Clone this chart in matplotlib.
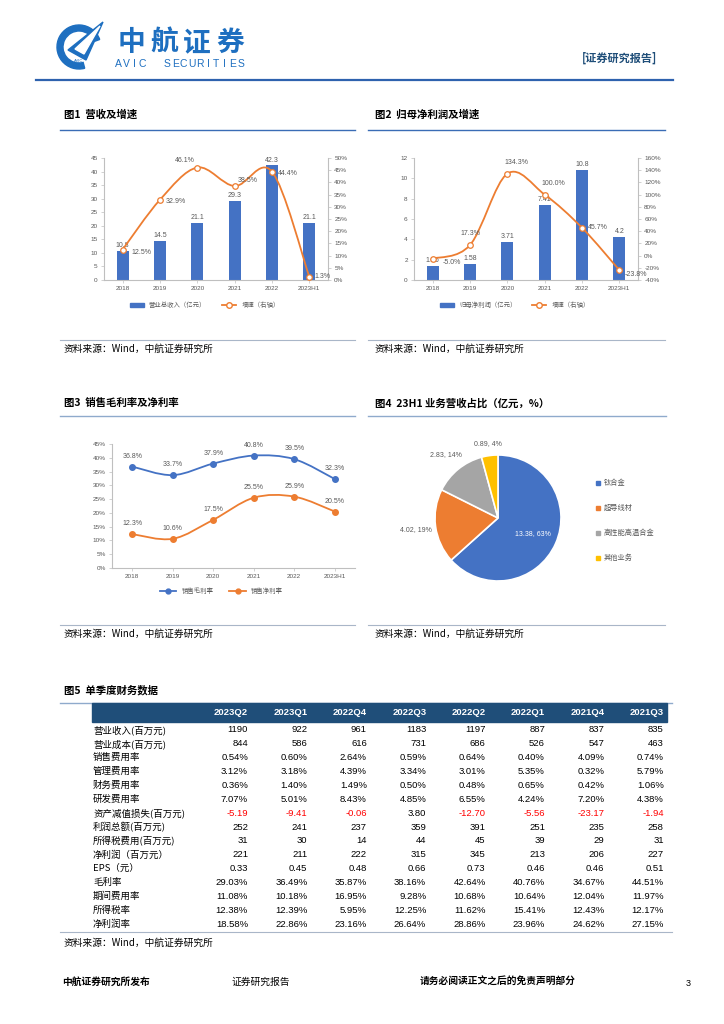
import numpy as np
import matplotlib
matplotlib.use('Agg')
import matplotlib.pyplot as plt
from matplotlib.path import Path
from matplotlib.patches import PathPatch, Rectangle, Polygon, Wedge
from matplotlib.lines import Line2D
from matplotlib.ticker import FuncFormatter

plt.rcParams['font.family'] = ['Liberation Sans', 'Noto Sans CJK SC']
plt.rcParams['axes.unicode_minus'] = False

# ---- data ----
years = ['2018', '2019', '2020', '2021', '2022', '2023H1']
revenue = [10.8, 14.5, 21.1, 29.3, 42.3, 21.1]
revenue_growth = [12.5, 32.9, 46.1, 38.5, 44.4, 1.3]
profit = [1.36, 1.58, 3.71, 7.41, 10.8, 4.2]
profit_text = ['1.36', '1.58', '3.71', '7.41', '10.8', '4.2']
profit_growth = [-5.0, 17.3, 134.3, 100.0, 45.7, -23.8]
gross_margin = [36.8, 33.7, 37.9, 40.8, 39.5, 32.3]
net_margin = [12.3, 10.6, 17.5, 25.5, 25.9, 20.5]

segments = ['钛合金', '超导线材', '高性能高温合金', '其他业务']
segment_rev = [13.38, 4.02, 2.83, 0.89]
segment_pct = [63, 19, 14, 4]

quarters = ['2023Q2', '2023Q1', '2022Q4', '2022Q3', '2022Q2', '2022Q1', '2021Q4', '2021Q3']
row_names = ['营业收入(百万元)', '营业成本(百万元)', '销售费用率', '管理费用率', '财务费用率',
             '研发费用率', '资产减值损失(百万元)', '利润总额(百万元)', '所得税费用(百万元)',
             '净利润（百万元）', 'EPS（元）', '毛利率', '期间费用率', '所得税率', '净利润率']
table_rows = [
    ['1190', '922', '961', '1183', '1197', '887', '837', '835'],
    ['844', '586', '616', '731', '686', '526', '547', '463'],
    ['0.54%', '0.60%', '2.64%', '0.59%', '0.64%', '0.40%', '4.09%', '0.74%'],
    ['3.12%', '3.18%', '4.39%', '3.34%', '3.01%', '5.35%', '0.32%', '5.79%'],
    ['0.36%', '1.40%', '1.49%', '0.50%', '0.48%', '0.65%', '0.42%', '1.06%'],
    ['7.07%', '5.01%', '8.43%', '4.85%', '6.55%', '4.24%', '7.20%', '4.38%'],
    ['-5.19', '-9.41', '-0.06', '3.80', '-12.70', '-5.56', '-23.17', '-1.94'],
    ['252', '241', '237', '359', '391', '251', '235', '258'],
    ['31', '30', '14', '44', '45', '39', '29', '31'],
    ['221', '211', '222', '315', '345', '213', '206', '227'],
    ['0.33', '0.45', '0.48', '0.66', '0.73', '0.46', '0.46', '0.51'],
    ['29.03%', '36.49%', '35.87%', '38.16%', '42.64%', '40.76%', '34.67%', '44.51%'],
    ['11.08%', '10.18%', '16.95%', '9.28%', '10.68%', '10.64%', '12.04%', '11.97%'],
    ['12.38%', '12.39%', '5.95%', '12.25%', '11.62%', '15.41%', '12.43%', '12.17%'],
    ['18.58%', '22.86%', '23.16%', '26.64%', '28.86%', '23.96%', '24.62%', '27.15%'],
]

BLUE = '#4472C4'
ORANGE = '#ED7D31'
PIE_COLORS = ['#4472C4', '#ED7D31', '#A5A5A5', '#FFC000']
AXC = '#BFBFBF'
TXT = '#595959'
NAVY = '#1F4E79'
LOGO = '#1E6FC0'
CJK = ['Noto Sans CJK SC', 'DejaVu Sans']

W, H = 724, 1024
fig = plt.figure(figsize=(W / 100, H / 100), dpi=100)


def rect(l, t, r, b):
    return [l / W, 1 - b / H, (r - l) / W, (b - t) / H]


def smooth_path(x, y):
    # excel-style smoothed line drawn as bezier segments through the points
    x = np.asarray(x, float)
    y = np.asarray(y, float)
    px = np.r_[x[0], x, x[-1]]
    py = np.r_[y[0], y, y[-1]]
    verts = [(x[0], y[0])]
    codes = [Path.MOVETO]
    for j in range(1, len(x)):
        c1 = (px[j] + (px[j + 1] - px[j - 1]) / 6, py[j] + (py[j + 1] - py[j - 1]) / 6)
        c2 = (px[j + 1] - (px[j + 2] - px[j]) / 6, py[j + 1] - (py[j + 2] - py[j]) / 6)
        verts += [c1, c2, (px[j + 1], py[j + 1])]
        codes += [Path.CURVE4] * 3
    return Path(verts, codes)


def style_axis(ax):
    for s in ['top', 'right']:
        ax.spines[s].set_visible(False)
    ax.spines['bottom'].set_color(AXC)
    ax.spines['left'].set_color(AXC)
    ax.tick_params(axis='both', labelsize=4.6, colors=TXT, length=2.5, width=0.5, color=AXC, pad=2)


def style_right(ax):
    for s in ['top', 'left', 'bottom']:
        ax.spines[s].set_visible(False)
    ax.spines['right'].set_color(AXC)
    ax.tick_params(labelsize=4.6, colors=TXT, length=2.5, width=0.5, color=AXC, pad=2)


pct_fmt = FuncFormatter(lambda v, p: f'{v:.0f}%')

# ---- decoration layer (pixel coords) ----
deco = fig.add_axes([0, 0, 1, 1])
deco.set_xlim(0, W)
deco.set_ylim(H, 0)
deco.axis('off')

# logo
deco.add_patch(Wedge((79, 47), 22, 75, 340, width=6, color=LOGO))
deco.add_patch(Polygon([(68, 50), (103, 22), (86, 60)], closed=True, color=LOGO))
deco.add_patch(Polygon([(75, 49), (100, 26), (84, 54)], closed=True, color='white'))
deco.text(79, 61, 'AVIC', fontsize=3, color=LOGO, ha='center', va='center')
for i, ch in enumerate('中航证券'):
    deco.text(131 + i * 33, 43, ch, fontsize=20, fontweight='heavy', color=LOGO,
              family=CJK, ha='center', va='center')
for i, ch in enumerate('AVIC  SECURITIES'):
    deco.text(118 + i * 8.2, 64, ch, fontsize=7.5, color=LOGO, ha='center', va='center')
deco.text(657, 58, '[证券研究报告]', fontsize=8, fontweight='bold', color=NAVY,
          family=CJK, ha='right', va='center')
deco.plot([36, 673], [80, 80], color='#2E62AE', lw=1.6)

# figure titles and rules
titles = [(64, 115, '图1  营收及增速'), (375, 115, '图2  归母净利润及增速'),
          (64, 403, '图3  销售毛利率及净利率'), (375, 403, '图4  23H1 业务营收占比（亿元，%）'),
          (64, 690, '图5  单季度财务数据')]
for tx, ty, t in titles:
    deco.text(tx, ty, t, fontsize=7.5, fontweight='bold', family=CJK, color='black',
              ha='left', va='center')
deco.plot([60, 355], [130, 130], color='#3A6CB5', lw=1)
deco.plot([368, 665], [130, 130], color='#3A6CB5', lw=1)
deco.plot([60, 355], [416, 416], color='#8FAACC', lw=1)
deco.plot([368, 666], [416, 416], color='#8FAACC', lw=1)
deco.plot([60, 672], [703, 703], color='#8FAACC', lw=1)
for yy in [340, 625]:
    deco.plot([60, 355], [yy, yy], color='#A9B6C8', lw=0.8)
    deco.plot([368, 665], [yy, yy], color='#A9B6C8', lw=0.8)
deco.plot([60, 672], [932, 932], color='#A9B6C8', lw=0.8)
for sx, sy in [(64, 349), (375, 349), (64, 634), (375, 634), (64, 943)]:
    deco.text(sx, sy, '资料来源：Wind，中航证券研究所', fontsize=7, family=CJK, color='black',
              ha='left', va='center')

# footer
deco.text(62, 982, '中航证券研究所发布', fontsize=7, fontweight='bold', family=CJK, ha='left', va='center')
deco.text(232, 982, '证券研究报告', fontsize=7, family=CJK, ha='left', va='center')
deco.text(420, 982, '请务必阅读正文之后的免责声明部分', fontsize=7, fontweight='bold', family=CJK,
          ha='left', va='center')
deco.text(688, 984, '3', fontsize=6.5, ha='center', va='center')

# ---- table ----
deco.add_patch(Rectangle((92, 703), 575, 19, color=NAVY, zorder=2))
col_right = [248 + 59.4 * i for i in range(len(quarters))]
for q, cr in zip(quarters, col_right):
    deco.text(cr - 17, 712.5, q, fontsize=6.8, fontweight='bold', color='white',
              ha='center', va='center', zorder=3)
for r, (name, vals) in enumerate(zip(row_names, table_rows)):
    ry = 730 + r * 13.86
    deco.text(93, ry, name, fontsize=6.8, family=CJK, color='black', ha='left', va='center')
    for v, cr in zip(vals, col_right):
        c = 'red' if v.startswith('-') else 'black'
        deco.text(cr, ry, v, fontsize=6.8, color=c, ha='right', va='center')

x = np.arange(len(years))

# ---- chart 1 ----
ax1 = fig.add_axes(rect(104, 158, 328, 280))
ax1.bar(x, revenue, width=0.32, color=BLUE, zorder=2)
for xi, v in zip(x, revenue):
    ax1.text(xi, v + 0.6, f'{v:.1f}', ha='center', va='bottom', fontsize=5, color=TXT)
ax1.set_ylim(0, 45)
ax1.set_yticks(range(0, 46, 5))
ax1.set_xlim(-0.5, 5.5)
ax1.set_xticks(x)
ax1.set_xticklabels(years)
style_axis(ax1)
ax1b = ax1.twinx()
ax1b.set_ylim(0, 50)
ax1b.set_yticks(range(0, 51, 5))
ax1b.yaxis.set_major_formatter(pct_fmt)
style_right(ax1b)
ax1b.add_patch(PathPatch(smooth_path(x, revenue_growth), fill=False, ec=ORANGE, lw=1.3, zorder=3))
ax1b.plot(x, revenue_growth, 'o', ms=4, mfc='white', mec=ORANGE, mew=0.9, zorder=4)
offs1 = [(6, -2), (4, -1), (-16, 5), (2, 4), (4, -1), (4, 0)]
for xi, v, o in zip(x, revenue_growth, offs1):
    ax1b.annotate(f'{v:.1f}%', (xi, v), xytext=o, textcoords='offset points',
                  fontsize=5, color=TXT, ha='left', va='center')
h1 = [Rectangle((0, 0), 1, 1, color=BLUE),
      Line2D([], [], color=ORANGE, lw=1.3, marker='o', ms=4, mfc='white', mec=ORANGE)]
ax1.legend(h1, ['营业总收入（亿元）', '增速（右轴）'], loc='upper center', bbox_to_anchor=(0.45, -0.13),
           ncol=2, frameon=False, fontsize=4.6, handlelength=2.2, handleheight=0.6,
           columnspacing=2.5, labelcolor=TXT)

# ---- chart 2 ----
ax2 = fig.add_axes(rect(414, 158, 638, 280))
ax2.bar(x, profit, width=0.32, color=BLUE, zorder=2)
for xi, v, t in zip(x, profit, profit_text):
    ax2.text(xi, v + 0.2, t, ha='center', va='bottom', fontsize=5, color=TXT)
ax2.set_ylim(0, 12)
ax2.set_yticks(range(0, 13, 2))
ax2.set_xlim(-0.5, 5.5)
ax2.set_xticks(x)
ax2.set_xticklabels(years)
style_axis(ax2)
ax2b = ax2.twinx()
ax2b.set_ylim(-40, 160)
ax2b.set_yticks(range(-40, 161, 20))
ax2b.yaxis.set_major_formatter(pct_fmt)
style_right(ax2b)
ax2b.add_patch(PathPatch(smooth_path(x, profit_growth), fill=False, ec=ORANGE, lw=1.3, zorder=3))
ax2b.plot(x, profit_growth, 'o', ms=4, mfc='white', mec=ORANGE, mew=0.9, zorder=4)
offs2 = [(7, -3), (-7, 8), (-2, 8), (-2, 8), (4, 0), (4, -3)]
for xi, v, o in zip(x, profit_growth, offs2):
    ax2b.annotate(f'{v:.1f}%', (xi, v), xytext=o, textcoords='offset points',
                  fontsize=5, color=TXT, ha='left', va='center')
ax2.legend(h1, ['归母净利润（亿元）', '增速（右轴）'], loc='upper center', bbox_to_anchor=(0.45, -0.13),
           ncol=2, frameon=False, fontsize=4.6, handlelength=2.2, handleheight=0.6,
           columnspacing=2.5, labelcolor=TXT)

# ---- chart 3 ----
ax3 = fig.add_axes(rect(112, 444, 355, 568))
for series, col in [(gross_margin, BLUE), (net_margin, ORANGE)]:
    ax3.add_patch(PathPatch(smooth_path(x, series), fill=False, ec=col, lw=1.3, zorder=3))
    ax3.plot(x, series, 'o', ms=4, color=col, zorder=4)
    for xi, v in zip(x, series):
        ax3.annotate(f'{v:.1f}%', (xi, v), xytext=(0, 5), textcoords='offset points',
                     fontsize=5, color=TXT, ha='center', va='bottom')
ax3.set_ylim(0, 45)
ax3.set_yticks(range(0, 46, 5))
ax3.yaxis.set_major_formatter(pct_fmt)
ax3.set_xlim(-0.5, 5.5)
ax3.set_xticks(x)
ax3.set_xticklabels(years)
style_axis(ax3)
h3 = [Line2D([], [], color=BLUE, lw=1.3, marker='o', ms=3.5),
      Line2D([], [], color=ORANGE, lw=1.3, marker='o', ms=3.5)]
ax3.legend(h3, ['销售毛利率', '销售净利率'], loc='upper center', bbox_to_anchor=(0.45, -0.11),
           ncol=2, frameon=False, fontsize=4.6, handlelength=2.6, columnspacing=2.5, labelcolor=TXT)

# ---- chart 4 ----
ax4 = fig.add_axes(rect(428, 448, 568, 588))
wedges, _ = ax4.pie(segment_rev, colors=PIE_COLORS, startangle=90, counterclock=False,
                    wedgeprops=dict(edgecolor='white', linewidth=1.2))
ax4.set_xlim(-1.111, 1.111)
ax4.set_ylim(-1.111, 1.111)
ax4.set_aspect('equal')
lab_r = [0.6, 1.32, 1.3, 1.2]
for i, (w, v, p, rr) in enumerate(zip(wedges, segment_rev, segment_pct, lab_r)):
    ang = np.deg2rad((w.theta1 + w.theta2) / 2)
    ax4.text(rr * np.cos(ang), rr * np.sin(ang), f'{v:.2f}, {p}%', fontsize=5,
             color='white' if i == 0 else TXT, ha='center', va='center')
for i, (name, col) in enumerate(zip(segments, PIE_COLORS)):
    ly = 483 + i * 25
    deco.add_patch(Rectangle((596, ly - 2), 4, 4, color=col))
    deco.text(604, ly, name, fontsize=5.2, family=CJK, color=TXT, ha='left', va='center')

fig.savefig('out.png', dpi=100)
